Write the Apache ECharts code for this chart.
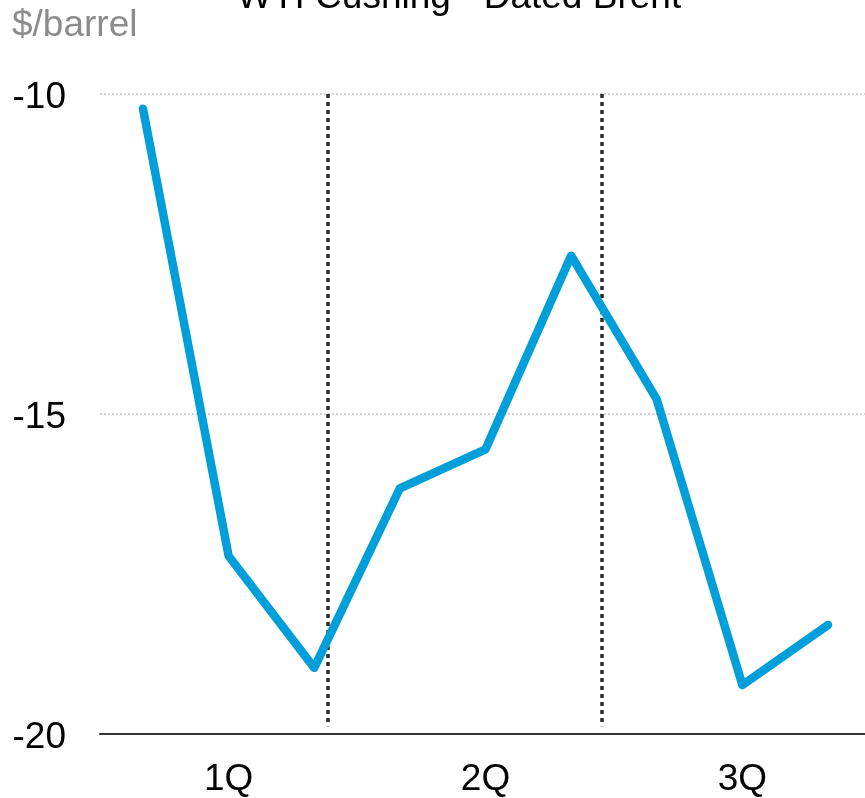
<!DOCTYPE html>
<html>
<head>
<meta charset="utf-8">
<script src="https://cdn.jsdelivr.net/npm/echarts@6/dist/echarts.min.js"></script>
<style>html,body{margin:0;padding:0;background:#fff}#c{width:865px;height:798px}</style>
</head>
<body>
<div id="c"></div>
<script>
var months = ['Jan', 'Feb', 'Mar', 'Apr', 'May', 'Jun', 'Jul', 'Aug', 'Sep'];
var quarterLabels = {'Feb': '1Q', 'May': '2Q', 'Aug': '3Q'};
var spread = [-10.23, -17.23, -18.98, -16.17, -15.56, -12.53, -14.78, -19.25, -18.31];
var dividerX = [2.16, 5.36];
var dividerTop = -10;
var dividerBottom = -19.88;
var yTicks = [-20, -15, -10];

var FONT = 'Liberation Sans, Arial, sans-serif';
var chart = echarts.init(document.getElementById('c'), null, {renderer: 'canvas'});
chart.setOption({
  animation: false,
  graphic: [
    {type: 'text', left: 237, top: -21, style: {text: 'WTI Cushing - Dated Brent', font: '37px ' + FONT, fill: '#000'}},
    {type: 'text', left: 12, top: 7, style: {text: '$/barrel', font: '37px ' + FONT, fill: '#8c8c8c'}}
  ],
  grid: [
    {left: 143, right: 37, top: 94, bottom: 64},
    {left: 100, right: 0, top: 94, bottom: 64}
  ],
  xAxis: [
    {type: 'category', gridIndex: 0, data: months, boundaryGap: false,
     axisLine: {show: false}, axisTick: {show: false},
     axisLabel: {interval: 0, margin: 28, fontSize: 37, fontFamily: FONT, color: '#000',
       formatter: function (v) { return quarterLabels[v] || ''; }}},
    {type: 'value', gridIndex: 1, min: -0.5, max: 8.426,
     axisLine: {show: true, lineStyle: {color: '#333', width: 2}},
     axisTick: {show: false}, axisLabel: {show: false}, splitLine: {show: false}}
  ],
  yAxis: [
    {type: 'value', gridIndex: 0, min: yTicks[0], max: yTicks[yTicks.length - 1],
     show: false, splitLine: {show: false}},
    {type: 'value', gridIndex: 1, min: yTicks[0], max: yTicks[yTicks.length - 1], interval: 5,
     axisLine: {show: false}, axisTick: {show: false},
     axisLabel: {margin: 34, color: '#000',
       formatter: function (v) { return '{v|' + v + '}'; },
       rich: {v: {fontSize: 37, fontFamily: FONT, color: '#000', padding: [8, 0, 0, 0]}}},
     splitLine: {show: true, lineStyle: {type: [2, 2], color: '#c4c4c4', width: 1.5}}}
  ],
  series: [
    {type: 'line', xAxisIndex: 1, yAxisIndex: 1, data: [], silent: true,
     markLine: {symbol: 'none', silent: true, label: {show: false},
       lineStyle: {type: [4, 4], color: '#2a2a2a', width: 3.5},
       data: dividerX.map(function (x) { return [{coord: [x, dividerTop]}, {coord: [x, dividerBottom]}]; })}},
    {type: 'line', xAxisIndex: 0, yAxisIndex: 0, data: spread, showSymbol: false, symbol: 'none',
     lineStyle: {color: '#009fd9', width: 8.5, cap: 'round', join: 'round'}, z: 5}
  ]
});
</script>
</body>
</html>
